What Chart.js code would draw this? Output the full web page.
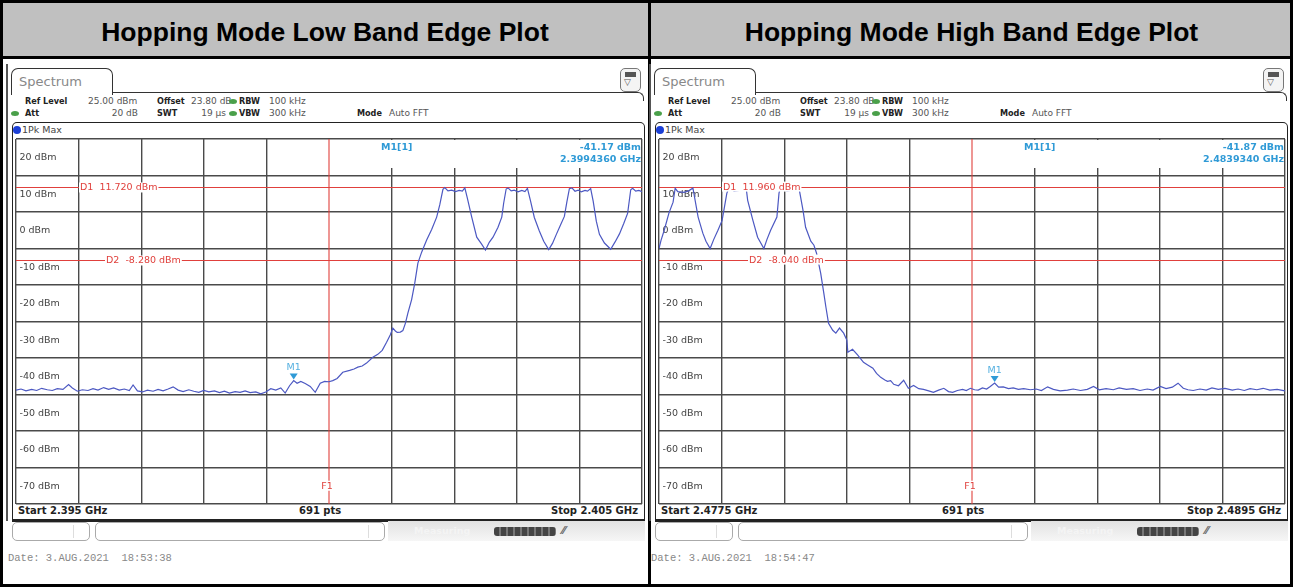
<!DOCTYPE html>
<html>
<head>
<meta charset="utf-8">
<script src="https://cdn.jsdelivr.net/npm/chart.js@4.4.0/dist/chart.umd.min.js"></script>
<style>
  body { margin: 0; background: #fff; }
  #page { position: relative; width: 1293px; height: 587px; overflow: hidden; background: #fff;
          font-family: "DejaVu Sans", Verdana, sans-serif; }
  .abs { position: absolute; }
  .hdr { position: absolute; top: 0; height: 56px; background: #c0c0c0; border-bottom: 3px solid #000;
         font: bold 26.5px "Liberation Sans", Arial, sans-serif; color: #000; text-align: center; line-height: 64px; }
  .txt { position: absolute; font-size: 9px; color: #555; white-space: pre; line-height: 12px; }
  .txt b { color: #222; font-family: "DejaVu Sans Condensed", "DejaVu Sans", sans-serif; }
  .foot { position: absolute; font-size: 10px; font-weight: bold; color: #222; white-space: pre; line-height: 12px; }
  .dot { position: absolute; width: 8px; height: 5px; border-radius: 50%; background: #4aa04a; }
  canvas { position: absolute; }
</style>
</head>
<body>
<div id="page"></div>
<script>
// DATA
const lowFreq = [
  2395.00, 2395.08, 2395.16, 2395.25, 2395.33, 2395.41, 2395.50, 2395.58, 2395.66, 2395.75,
  2395.84, 2395.90, 2395.98, 2396.06, 2396.15, 2396.23, 2396.31, 2396.40, 2396.48, 2396.56,
  2396.65, 2396.73, 2396.81, 2396.87, 2396.94, 2397.02, 2397.10, 2397.19, 2397.27, 2397.35,
  2397.43, 2397.51, 2397.59, 2397.67, 2397.76, 2397.84, 2397.92, 2398.00, 2398.08, 2398.17,
  2398.25, 2398.33, 2398.41, 2398.50, 2398.58, 2398.66, 2398.74, 2398.83, 2398.91, 2398.99,
  2399.07, 2399.15, 2399.23, 2399.30, 2399.37, 2399.436, 2399.49, 2399.55, 2399.62, 2399.70,
  2399.78, 2399.86, 2399.93, 2400.00, 2400.06, 2400.13, 2400.22, 2400.33, 2400.40, 2400.46,
  2400.53, 2400.60, 2400.70, 2400.78, 2400.85, 2400.92, 2400.98, 2401.02, 2401.06, 2401.09,
  2401.14, 2401.18, 2401.22, 2401.26, 2401.32, 2401.37, 2401.42, 2401.48, 2401.56, 2401.64,
  2401.72, 2401.77, 2401.82, 2401.85, 2401.90, 2401.96, 2402.02, 2402.08, 2402.13, 2402.17,
  2402.21, 2402.28, 2402.36, 2402.43, 2402.50, 2402.56, 2402.62, 2402.70, 2402.76, 2402.79,
  2402.83, 2402.86, 2402.91, 2402.96, 2403.02, 2403.08, 2403.13, 2403.17, 2403.22, 2403.28,
  2403.36, 2403.43, 2403.51, 2403.57, 2403.63, 2403.70, 2403.76, 2403.80, 2403.84, 2403.88,
  2403.93, 2403.98, 2404.03, 2404.09, 2404.13, 2404.18, 2404.22, 2404.27, 2404.32, 2404.40,
  2404.50, 2404.57, 2404.64, 2404.71, 2404.77, 2404.82, 2404.85, 2404.90, 2404.95, 2405.00
];
const lowLevel = [
  -43.8, -43.5, -44.0, -43.6, -43.9, -43.3, -43.7, -43.9, -43.4, -43.6,
  -42.3, -43.2, -44.1, -43.7, -43.9, -43.4, -43.8, -43.1, -43.6, -43.2,
  -43.8, -43.5, -43.9, -42.4, -44.0, -44.3, -43.8, -44.1, -43.6, -44.0,
  -43.5, -42.9, -43.8, -44.2, -43.7, -44.1, -44.4, -43.9, -44.3, -44.0,
  -44.5, -44.1, -44.6, -44.2, -44.4, -44.0, -44.5, -44.3, -44.8, -44.3,
  -43.4, -43.8, -43.2, -44.6, -42.6, -41.17, -41.9, -41.4, -42.0, -42.8,
  -44.4, -41.9, -41.4, -41.5, -41.2, -40.6, -38.9, -38.4, -38.0, -37.5,
  -37.2, -36.4, -34.8, -34.0, -32.9, -30.7, -28.6, -26.8, -27.6, -28.0,
  -27.9, -27.5, -25.5, -22.7, -19.0, -14.5, -9.0, -6.0, -2.7, 0.2,
  3.6, 7.0, 11.2, 11.7, 10.8, 11.0, 10.6, 10.9, 10.7, 11.6,
  8.8, 3.6, -1.9, -3.6, -5.4, -3.3, -1.9, 0.8, 3.6, 7.4,
  11.3, 11.6, 10.8, 11.0, 10.5, 10.9, 10.6, 11.5, 8.0, 3.5,
  -0.2, -3.0, -5.3, -3.6, -1.2, 1.5, 3.8, 7.8, 11.4, 11.6,
  10.7, 11.0, 10.5, 10.9, 10.7, 11.4, 8.0, 2.5, -1.1, -3.5,
  -5.2, -3.2, -1.0, 1.9, 4.6, 11.1, 11.5, 10.7, 10.9, 10.6
];

const highFreq = [
  2477.50, 2477.54, 2477.60, 2477.69, 2477.77, 2477.81, 2477.86, 2477.98, 2478.07, 2478.15,
  2478.25, 2478.34, 2478.40, 2478.48, 2478.55, 2478.63, 2478.71, 2478.80, 2478.84, 2478.94,
  2479.07, 2479.17, 2479.20, 2479.30, 2479.39, 2479.51, 2479.57, 2479.64, 2479.76, 2479.80,
  2479.83, 2479.95, 2480.06, 2480.18, 2480.26, 2480.31, 2480.41, 2480.47, 2480.52, 2480.60,
  2480.66, 2480.70, 2480.75, 2480.83, 2480.89, 2480.96, 2481.04, 2481.10, 2481.12, 2481.21,
  2481.31, 2481.42, 2481.50, 2481.60, 2481.67, 2481.75, 2481.83, 2481.88, 2481.94, 2482.00,
  2482.09, 2482.19, 2482.28, 2482.38, 2482.48, 2482.57, 2482.67, 2482.76, 2482.86, 2482.96,
  2483.05, 2483.13, 2483.22, 2483.32, 2483.39, 2483.47, 2483.55, 2483.62, 2483.70, 2483.78,
  2483.85, 2483.934, 2484.01, 2484.10, 2484.20, 2484.29, 2484.39, 2484.49, 2484.62, 2484.73,
  2484.83, 2484.95, 2485.06, 2485.19, 2485.33, 2485.44, 2485.58, 2485.71, 2485.83, 2485.94,
  2486.07, 2486.21, 2486.32, 2486.46, 2486.59, 2486.72, 2486.86, 2486.97, 2487.11, 2487.22,
  2487.34, 2487.45, 2487.55, 2487.64, 2487.74, 2487.87, 2487.99, 2488.10, 2488.22, 2488.35,
  2488.49, 2488.60, 2488.72, 2488.83, 2488.96, 2489.08, 2489.21, 2489.35, 2489.50
];
const highLevel = [
  -5.0, -2.7, 0.0, 4.7, 7.7, 11.5, 10.6, 10.4, 10.8, 11.6,
  3.6, -0.8, -3.0, -5.0, -2.5, 0.0, 2.7, 10.1, 11.6, 10.7,
  11.0, 11.7, 8.2, 2.7, -1.9, -5.0, -2.5, 0.0, 3.6, 10.1,
  11.96, 10.8, 11.0, 11.8, 5.5, 0.8, -3.0, -4.1, -6.3, -11.8,
  -17.3, -21.1, -25.5, -27.4, -28.2, -26.8, -28.2, -30.1, -33.4, -32.6,
  -34.2, -36.2, -36.9, -37.8, -39.2, -40.3, -41.0, -41.4, -41.2, -42.2,
  -42.6, -41.1, -43.3, -42.5, -43.4, -43.6, -44.0, -44.4, -43.8, -43.3,
  -44.2, -44.4, -43.9, -43.6, -43.9, -43.3, -43.7, -43.8, -43.2, -43.5,
  -42.8, -41.87, -43.0, -42.9, -43.4, -43.2, -43.6, -43.4, -43.7, -43.5,
  -43.9, -42.9, -43.6, -44.0, -43.8, -43.5, -43.9, -43.6, -42.8, -43.7,
  -43.4, -43.7, -43.2, -43.6, -43.4, -43.9, -43.5, -43.8, -42.8, -43.4,
  -43.0, -41.9, -43.3, -43.7, -43.9, -43.5, -43.8, -43.2, -43.6, -43.3,
  -43.8, -43.5, -43.9, -43.4, -43.7, -43.3, -43.8, -43.6, -44.0
];

// axes / divisions
const lowFreqTicks = [2395, 2396, 2397, 2398, 2399, 2400, 2401, 2402, 2403, 2404, 2405];
const highFreqTicks = [2477.5, 2478.7, 2479.9, 2481.1, 2482.3, 2483.5, 2484.7, 2485.9, 2487.1, 2488.3, 2489.5];
const levelTicks = [25, 15, 5, -5, -15, -25, -35, -45, -55, -65, -75];
const levelLabelValues = [20, 10, 0, -10, -20, -30, -40, -50, -60, -70];
const levelLabels = ["20 dBm", "10 dBm", "0 dBm", "-10 dBm", "-20 dBm", "-30 dBm", "-40 dBm", "-50 dBm", "-60 dBm", "-70 dBm"];

// display lines, frequency line, marker
const lowDisplayLines = [11.72, -8.28];
const highDisplayLines = [11.96, -8.04];
const lowDisplayText = ["D1  11.720 dBm", "D2  -8.280 dBm"];
const highDisplayText = ["D1  11.960 dBm", "D2  -8.040 dBm"];
const lowF1 = 2400.0;
const highF1 = 2483.5;
const lowMarker = [2399.436, -41.17];
const highMarker = [2483.934, -41.87];
const lowMarkerText = ["-41.17 dBm", "2.3994360 GHz"];
const highMarkerText = ["-41.87 dBm", "2.4839340 GHz"];

const RED = "#e0403c";
const MARK = "#2f9ad6";
const GRID = "#4a4a4a";
const page = document.getElementById("page");

function el(cls, css, html) {
  const d = document.createElement("div");
  d.className = cls;
  d.style.cssText = css;
  if (html !== undefined) d.innerHTML = html;
  page.append(d);
  return d;
}

// TABLE FRAME
el("hdr", "left:0;width:650px;", "Hopping Mode Low Band Edge Plot");
el("hdr", "left:650px;width:643px;", "Hopping Mode High Band Edge Plot");
el("abs", "left:0;top:0;width:1287px;height:581px;border:3px solid #000;");
el("abs", "left:648px;top:0;width:3px;height:587px;background:#000;");

// OVERLAY PLUGIN (lines, labels, marker)
const rsOverlay = {
  id: "rsOverlay",
  beforeDatasetsDraw(chart, args, o) {
    const { ctx, chartArea: a } = chart;
    const x = chart.scales.x, y = chart.scales.y;
    ctx.save();
    ctx.strokeStyle = RED;
    ctx.lineWidth = 1.1;
    o.lines.forEach((v) => {
      const py = Math.round(y.getPixelForValue(v)) + 0.5;
      ctx.beginPath(); ctx.moveTo(a.left, py); ctx.lineTo(a.right, py); ctx.stroke();
    });
    const fx = x.getPixelForValue(o.f1);
    ctx.beginPath(); ctx.moveTo(fx, a.top); ctx.lineTo(fx, a.bottom); ctx.stroke();
    // level labels sit on the grid lines
    ctx.font = "9.5px 'DejaVu Sans'";
    ctx.textBaseline = "middle";
    levelLabels.forEach((t, i) => {
      const py = y.getPixelForValue(levelLabelValues[i]);
      const w = ctx.measureText(t).width;
      ctx.fillStyle = "#fff";
      ctx.fillRect(a.left + 1.5, py - 5, w + 4, 10);
      ctx.fillStyle = "#444";
      ctx.fillText(t, a.left + 3.5, py + 0.5);
    });
    ctx.restore();
  },
  afterDatasetsDraw(chart, args, o) {
    const { ctx, chartArea: a } = chart;
    const x = chart.scales.x, y = chart.scales.y;
    ctx.save();
    ctx.font = "9.5px 'DejaVu Sans'";
    ctx.textBaseline = "middle";
    // D1 / D2 labels
    o.lines.forEach((v, i) => {
      const py = y.getPixelForValue(v);
      const lx = a.left + (i === 0 ? 63 : 89);
      const w = ctx.measureText(o.lineText[i]).width;
      ctx.fillStyle = "#fff";
      ctx.fillRect(lx, py - 5, w + 2, 10);
      ctx.fillStyle = RED;
      ctx.fillText(o.lineText[i], lx + 1, py + 0.5);
    });
    // F1 label
    const fx = x.getPixelForValue(o.f1);
    const fy = y.getPixelForValue(-70);
    ctx.fillStyle = "#fff";
    ctx.fillRect(fx - 9, fy - 5, 14, 10);
    ctx.fillStyle = RED;
    ctx.textAlign = "center";
    ctx.fillText("F1", fx - 2, fy + 0.5);
    // marker M1
    const mx = x.getPixelForValue(o.marker[0]);
    const my = y.getPixelForValue(o.marker[1]);
    ctx.fillStyle = MARK;
    ctx.beginPath();
    ctx.moveTo(mx - 4, my - 7); ctx.lineTo(mx + 4, my - 7); ctx.lineTo(mx, my - 1); ctx.closePath();
    ctx.fill();
    ctx.fillStyle = "#55b0e0";
    ctx.fillText("M1", mx, my - 13);
    // marker info box
    ctx.fillStyle = "#fff";
    ctx.fillRect(a.left + 362, a.top + 1, a.right - a.left - 363, 28);
    ctx.fillStyle = MARK;
    ctx.font = "bold 9.5px 'DejaVu Sans'";
    ctx.textAlign = "left";
    ctx.fillText("M1[1]", a.left + 365, a.top + 9);
    ctx.textAlign = "right";
    ctx.fillText(o.markerText[0], a.right - 1, a.top + 9);
    ctx.fillText(o.markerText[1], a.right - 1, a.top + 21);
    ctx.restore();
  },
};

function buildPanel(ox, p) {
  // tab + header chrome
  el("abs", `left:${ox + 11}px;top:68px;width:100px;height:26px;border:1.5px solid #333;border-bottom:none;border-radius:7px 7px 0 0;background:#fff;`,
    `<div style="position:absolute;left:7px;top:5px;font-size:13px;color:#888;">Spectrum</div>`);
  el("abs", `left:${ox + 112}px;top:92px;width:531px;height:8px;border-top:1.5px solid #333;border-right:1.5px solid #333;border-radius:0 6px 0 0;`);
  el("abs", `left:${ox + 620}px;top:68px;width:19px;height:22px;border:1.5px solid #777;border-radius:5px;background:#f4f4f4;`,
    `<div style="position:absolute;left:4px;top:3px;width:11px;height:5px;background:#555;"></div>` +
    `<div style="position:absolute;left:3px;top:8px;font-size:9px;color:#555;">▽</div>`);
  el("abs", `left:${ox + 6}px;top:64px;width:2px;height:457px;background:#555;`);

  const t = (x, y, html, extra = "") => el("txt", `left:${ox + x}px;top:${y}px;${extra}`, html);
  t(25, 95, "<b>Ref Level</b>");
  t(88, 95, "25.00 dBm");
  t(157, 95, "<b>Offset</b>");
  t(191, 95, "23.80 dB");
  t(239, 95, "<b>RBW</b>");
  t(269, 95, "100 kHz");
  t(25, 107, "<b>Att</b>");
  t(88, 107, "20 dB", "width:50px;text-align:right;");
  t(157, 107, "<b>SWT</b>");
  t(176, 107, "19 µs", "width:50px;text-align:right;");
  t(239, 107, "<b>VBW</b>");
  t(269, 107, "300 kHz");
  t(357, 107, "<b>Mode</b>");
  t(389, 107, "Auto FFT");
  el("dot", `left:${ox + 229}px;top:99px;`);
  el("dot", `left:${ox + 11}px;top:111px;`);
  el("dot", `left:${ox + 229}px;top:111px;`);

  // plot frame
  el("abs", `left:${ox + 12}px;top:122px;width:631px;height:396px;border:1.5px solid #222;border-bottom:3px solid #222;border-radius:5px 5px 0 0;`);
  el("abs", `left:${ox + 13}px;top:126px;width:8px;height:8px;border-radius:50%;background:#1b3fd6;`);
  t(22, 124, "1Pk Max", "color:#444;font-size:9.5px;");
  el("foot", `left:${ox + 18}px;top:505px;`, p.start);
  el("foot", `left:${ox + 299}px;top:505px;`, "691 pts");
  el("foot", `left:${ox + 440}px;top:505px;width:198px;text-align:right;`, p.stop);

  // status bar
  el("abs", `left:${ox + 12}px;top:522px;width:76px;height:17px;border:1px solid #aaa;border-radius:5px;`,
    `<div style="position:absolute;left:60px;top:2px;width:1px;height:13px;background:#ddd;"></div>`);
  el("abs", `left:${ox + 95}px;top:522px;width:288px;height:17px;border:1px solid #aaa;border-radius:5px;`,
    `<div style="position:absolute;left:272px;top:2px;width:1px;height:13px;background:#ddd;"></div>`);
  el("abs", `left:${ox + 388}px;top:521px;width:257px;height:20px;background:linear-gradient(#e2e2e2,#f6f6f6);`,
    `<div style="position:absolute;left:26px;top:4px;font-size:9.5px;color:#f4f4f4;font-weight:bold;">Measuring</div>` +
    `<div style="position:absolute;left:106px;top:6px;width:62px;height:9px;border-radius:3px;background:repeating-linear-gradient(90deg,#444 0 5px,#777 5px 7px);"></div>` +
    `<div style="position:absolute;left:174px;top:3px;font-size:11px;color:#666;font-weight:bold;">⁄⁄</div>`);
  el("txt", `left:${ox + 8}px;top:552px;font:10.5px 'Liberation Mono',monospace;color:#888;`, p.date);

  // chart canvas
  const canvas = document.createElement("canvas");
  canvas.width = 638;
  canvas.height = 375;
  canvas.style.left = ox + 10 + "px";
  canvas.style.top = "134px";
  page.append(canvas);

  const gridX = {
    color: (c) => (c.tick && Math.abs(c.tick.value - p.f1) < 1e-6 ? "rgba(0,0,0,0)" : GRID),
    lineWidth: 1.4, drawTicks: false,
  };
  const gridY = { color: GRID, lineWidth: 1.4, drawTicks: false };
  new Chart(canvas, {
    type: "line",
    data: {
      datasets: [{
        data: p.freq.map((f, i) => ({ x: f, y: p.level[i] })),
        borderColor: "#4c58c2",
        borderWidth: 1.2,
        pointRadius: 0,
        tension: 0,
      }],
    },
    options: {
      responsive: false,
      animation: false,
      layout: { padding: { left: 6, right: 6, top: 5, bottom: 5 } },
      plugins: {
        legend: { display: false },
        tooltip: { enabled: false },
        rsOverlay: {
          lines: p.lines, lineText: p.lineText, f1: p.f1,
          marker: p.marker, markerText: p.markerText,
        },
      },
      scales: {
        x: {
          type: "linear", min: p.ticks[0], max: p.ticks[p.ticks.length - 1],
          afterBuildTicks: (ax) => { ax.ticks = p.ticks.map((v) => ({ value: v })); },
          ticks: { display: false }, grid: gridX, border: { display: false },
        },
        y: {
          min: -75, max: 25,
          afterBuildTicks: (ax) => { ax.ticks = levelTicks.map((v) => ({ value: v })); },
          ticks: { display: false }, grid: gridY, border: { display: false },
        },
      },
    },
    plugins: [rsOverlay],
  });
}

buildPanel(0, {
  freq: lowFreq, level: lowLevel, ticks: lowFreqTicks,
  lines: lowDisplayLines, lineText: lowDisplayText, f1: lowF1,
  marker: lowMarker, markerText: lowMarkerText,
  start: "Start 2.395 GHz", stop: "Stop 2.405 GHz", date: "Date: 3.AUG.2021  18:53:38",
});
buildPanel(643, {
  freq: highFreq, level: highLevel, ticks: highFreqTicks,
  lines: highDisplayLines, lineText: highDisplayText, f1: highF1,
  marker: highMarker, markerText: highMarkerText,
  start: "Start 2.4775 GHz", stop: "Stop 2.4895 GHz", date: "Date: 3.AUG.2021  18:54:47",
});
</script>
</body>
</html>
